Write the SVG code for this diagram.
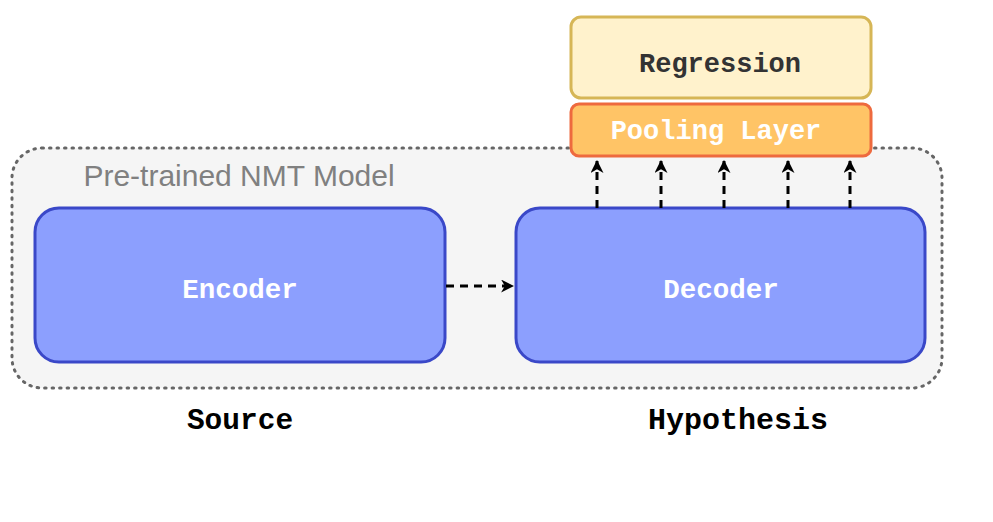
<svg xmlns="http://www.w3.org/2000/svg" width="993" height="522" viewBox="0 0 993 522">
<defs>
<style>
.mono{font-family:"Liberation Mono","Courier New",monospace;font-weight:bold;text-anchor:middle;}
.blk{fill:#8c9ffe;stroke:#3a48c8;stroke-width:3;}
.conn{stroke:#000;stroke-width:3;stroke-dasharray:8 6;fill:none;}
</style>
<marker id="a2" viewBox="0 0 12 12" refX="11" refY="6" markerWidth="13" markerHeight="13" orient="auto" markerUnits="userSpaceOnUse">
<path d="M0,0 L12,6 L0,12 L3.5,6 Z" fill="#000"/>
</marker>
</defs>
<rect width="993" height="522" fill="#fff"/>
<g id="container">
<rect x="12" y="148" width="930" height="240" rx="30" fill="#f5f5f5" stroke="#666" stroke-width="3" stroke-dasharray="1.5 6" stroke-linecap="round"/>
<text x="239" y="186" font-family="Liberation Sans, Arial, sans-serif" font-size="30" fill="#808080" text-anchor="middle">Pre-trained NMT Model</text>
</g>
<g id="encoder">
<rect class="blk" x="35" y="208" width="410" height="154" rx="24"/>
<text class="mono" x="240" y="298" font-size="27.5" fill="#fff">Encoder</text>
</g>
<g id="decoder">
<rect class="blk" x="516" y="208" width="409" height="154" rx="24"/>
<text class="mono" x="721" y="298" font-size="27.5" fill="#fff">Decoder</text>
</g>
<g id="regression">
<rect x="571" y="17" width="300" height="81" rx="10" fill="#fff2cc" stroke="#d6b656" stroke-width="3"/>
<text class="mono" x="720" y="72" font-size="27" fill="#333">Regression</text>
</g>
<g id="pooling">
<rect x="571" y="104" width="300" height="52" rx="8" fill="#ffc466" stroke="#ee6a3e" stroke-width="3"/>
<text class="mono" x="716" y="139" font-size="27" fill="#fff">Pooling Layer</text>
</g>
<g id="source"><text class="mono" x="240" y="429" font-size="29.5" fill="#000">Source</text></g>
<g id="hypothesis"><text class="mono" x="738" y="429" font-size="30" fill="#000">Hypothesis</text></g>
<g id="connectors">
<path class="conn" d="M446,286 L513,286" marker-end="url(#a2)"/>
<path class="conn" d="M597,208 L597,161" marker-end="url(#a2)"/>
<path class="conn" d="M661,208 L661,161" marker-end="url(#a2)"/>
<path class="conn" d="M724,208 L724,161" marker-end="url(#a2)"/>
<path class="conn" d="M788,208 L788,161" marker-end="url(#a2)"/>
<path class="conn" d="M850,208 L850,161" marker-end="url(#a2)"/>
</g>
</svg>
